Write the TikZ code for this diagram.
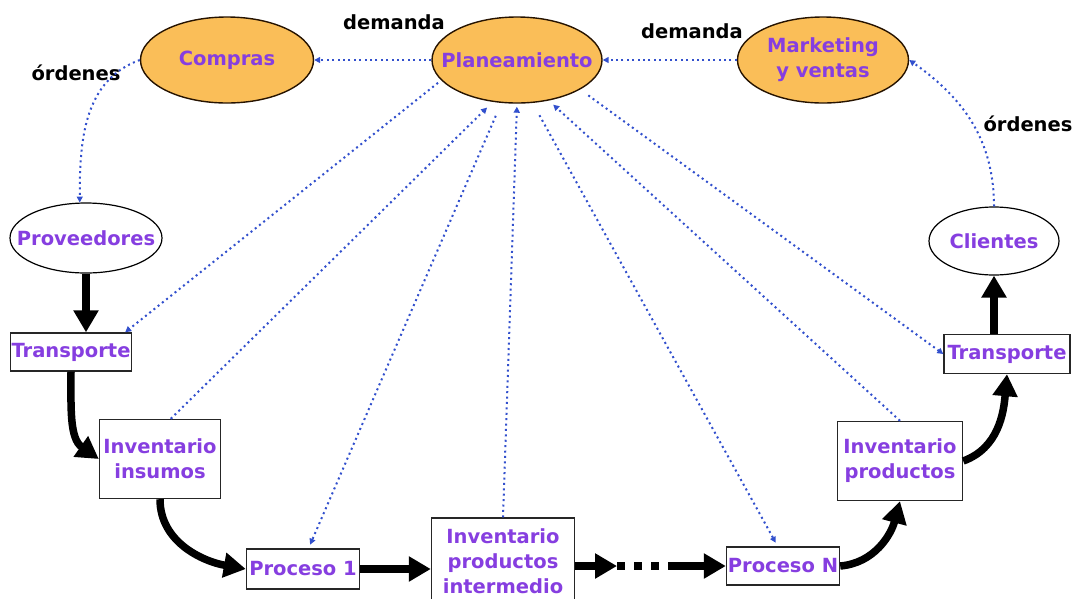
\documentclass[tikz,border=0pt]{standalone}
\usepackage{fontspec}
\setmainfont{DejaVu Sans}
\usetikzlibrary{positioning,shapes.geometric,arrows.meta}
\definecolor{naranja}{RGB}{250,190,88}
\definecolor{lila}{RGB}{134,62,224}
\definecolor{azul}{RGB}{50,80,205}
\newcommand*{\tx}{\fontsize{19.5}{25}\selectfont\bfseries}
\tikzset{
  texto/.style={font=\tx,text=lila,align=center,inner sep=0pt},
  area/.style={texto,ellipse,inner xsep=-22pt,draw=black!85!orange,line width=1.4pt,fill=naranja},
  actor/.style={texto,ellipse,inner xsep=-22pt,draw=black,line width=1.2pt,fill=white},
  caja/.style={texto,rectangle,draw=black!85,line width=1.4pt,fill=white},
  etiq/.style={font=\tx,text=black,inner sep=0pt},
  info/.style={azul,line width=2pt,dash pattern=on 2pt off 3.4pt,-{Triangle[length=6pt,width=6pt]}},
  flujo/.style={line width=7.5pt,-{Triangle[length=22pt,width=24pt]}}
}

\begin{document}
\begin{tikzpicture}[x=1pt,y=1pt]
\useasboundingbox (0,0) rectangle (1076,-598);

% areas
\node[area,minimum width=173pt,minimum height=86pt] (compras) at (227,-60) {Compras};
\node[area,minimum width=170pt,minimum height=86pt] (planea) at (517,-60) {Planeamiento};
\node[area,minimum width=171pt,minimum height=86pt] (mkt) at (823,-60) {Marketing\\y ventas};

% extremos
\node[actor,minimum width=152pt,minimum height=70pt] (prov) at (86,-238) {Proveedores};
\node[actor,minimum width=130pt,minimum height=68pt] (cli) at (994,-241) {Clientes};

% cadena
\node[caja,minimum width=121pt,minimum height=38pt] (trans1) at (71,-352) {Transporte};
\node[caja,minimum width=121pt,minimum height=79pt] (insumos) at (160,-459) {Inventario\\insumos};
\node[caja,minimum width=113pt,minimum height=40pt] (proc1) at (303,-569) {Proceso 1};
\node[caja,minimum width=143pt,minimum height=86pt] (interm) at (503,-561) {Inventario\\productos\\intermedio};
\node[caja,minimum width=113pt,minimum height=38pt] (procN) at (783,-566) {Proceso N};
\node[caja,minimum width=125pt,minimum height=79pt] (prods) at (900,-461) {Inventario\\productos};
\node[caja,minimum width=126pt,minimum height=39pt] (trans2) at (1007,-354) {Transporte};

\node[etiq] (dem1) at (394,-22) {demanda};
\node[etiq] (dem2) at (692,-31) {demanda};
\node[etiq] (ord1) at (76,-73) {órdenes};
\node[etiq] (ord2) at (1028,-124) {órdenes};

\coordinate (m1) at (617,-566);
\coordinate (m2) at (672,-566);

% informacion
\draw[info] (planea.west) -- (compras.east);
\draw[info] (mkt.west) -- (planea.east);
\draw[info] (compras.west) to[out=200,in=90] (prov.100);
\draw[info] (cli.north) to[out=90,in=-35] (mkt.east);
\draw[info,shorten <=4pt] (planea.195) -- (trans1.20);
\draw[info,shorten >=8pt] (insumos.75) -- (planea.240);
\draw[info,shorten <=14pt,shorten >=4pt] (planea.250) -- (proc1.75);
\draw[info,shorten >=3pt] (interm.north) -- (planea.south);
\draw[info,shorten <=14pt,shorten >=4pt] (planea.290) -- (procN.105);
\draw[info,shorten >=6pt] (prods.north) -- (planea.308);
\draw[info,shorten <=10pt] (planea.335) -- (trans2.west);

% materiales
\draw[flujo] (prov.south) -- (prov.south |- trans1.north);
\draw[flujo] (trans1.south) to[out=-90,in=145] (insumos.west);
\draw[flujo] (insumos.south) to[out=-90,in=170] (proc1.west);
\draw[flujo] (proc1.east) -- (proc1.east -| interm.west);
\draw[flujo] (interm.east |- m1) -- (m1);
\draw[line width=7.5pt,dash pattern=on 8pt off 9pt] (m1) -- (m2);
\draw[flujo] (m2) -- (procN.west);
\draw[flujo] (procN.east) to[out=5,in=-105] (prods.south);
\draw[flujo] (prods.east) to[out=20,in=-95] (trans2.south);
\draw[flujo] (trans2.north -| cli.south) -- (cli.south);
\end{tikzpicture}
\end{document}
